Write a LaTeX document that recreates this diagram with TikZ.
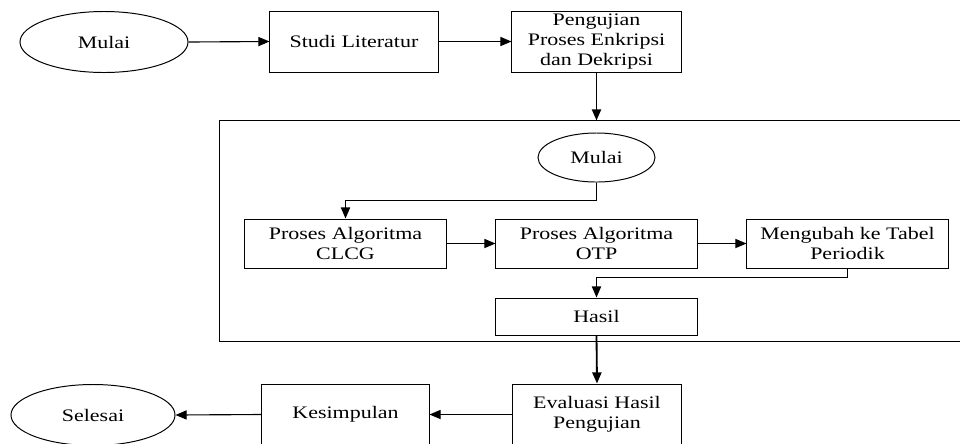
\documentclass[tikz,border=0pt]{standalone}
\usepackage{fontspec}
\setmainfont{Liberation Serif}[FakeStretch=1.25]
\usepackage{tikz}
\usetikzlibrary{arrows.meta,shapes.geometric}

\begin{document}
\begin{tikzpicture}[x=0.025cm,y=0.025cm]
	\tikzstyle{every node}+=[inner sep=0pt, font=\fontsize{12.5}{14}\selectfont, align=center]
	\tikzstyle{box}=[draw, rectangle, line width=0.7pt]
	\tikzstyle{oval}=[draw, ellipse, line width=0.7pt]
	\tikzstyle{arr}=[line width=0.8pt, -{Triangle[length=2.8mm,width=2.3mm]}]
	\useasboundingbox (0,0) rectangle (960,-443);
	\clip (0,0) rectangle (960,-443);
	% top row
	\node [oval, minimum width=4.2cm, minimum height=1.525cm] (start) at (104,-42) {Mulai};
	\node [box, minimum width=4.2cm, minimum height=1.525cm] (studi) at (354,-41.5) {Studi Literatur};
	\node [box, minimum width=4.225cm, minimum height=1.525cm] (uji) at (596.5,-41.5) {Pengujian\\Proses Enkripsi\\dan Dekripsi};
	% frame
	\node [box, minimum width=18.8cm, minimum height=5.5cm] (frame) at (596,-231) {};
	\node [oval, minimum width=2.925cm, minimum height=1.225cm] (mulai2) at (596.5,-157.5) {Mulai};
	\node [box, minimum width=5.025cm, minimum height=1.225cm] (clcg) at (345.5,-243.5) {Proses Algoritma\\CLCG};
	\node [box, minimum width=5.025cm, minimum height=1.225cm] (otp) at (596.5,-243.5) {Proses Algoritma\\OTP};
	\node [box, minimum width=5.025cm, minimum height=1.225cm] (ubah) at (847.5,-243.5) {Mengubah ke Tabel\\Periodik};
	\node [box, minimum width=5.025cm, minimum height=0.925cm] (hasil) at (596.5,-316.5) {Hasil};
	% bottom row
	\node [box, minimum width=4.2cm, minimum height=1.525cm] (eval) at (597,-414.5) {Evaluasi Hasil\\Pengujian};
	\node [box, minimum width=4.175cm, minimum height=1.525cm] (kes) at (345.5,-414.5) {Kesimpulan};
	\node [oval, minimum width=4.1cm, minimum height=1.525cm] (selesai) at (93,-415) {Selesai};
	% connectors
	\draw [arr] (start.east) -- (studi.west);
	\draw [arr] (studi.east) -- (uji.west);
	\draw [arr, line width=1.3pt] (uji.south) -- (uji.south |- frame.north);
	\draw [arr, line width=1.1pt] (mulai2.south) -- ++(0,-18) -| (clcg.north);
	\draw [arr] (clcg.east) -- (otp.west);
	\draw [arr] (otp.east) -- (ubah.west);
	\draw [arr, line width=1.1pt] (ubah.south) -- ++(0,-9) -| (hasil.north);
	\draw [arr, line width=1.3pt] (hasil.south) -- (eval.north);
	\draw [arr] (eval.west) -- (kes.east);
	\draw [arr] (kes.west) -- (selesai.east);
\end{tikzpicture}
\end{document}
